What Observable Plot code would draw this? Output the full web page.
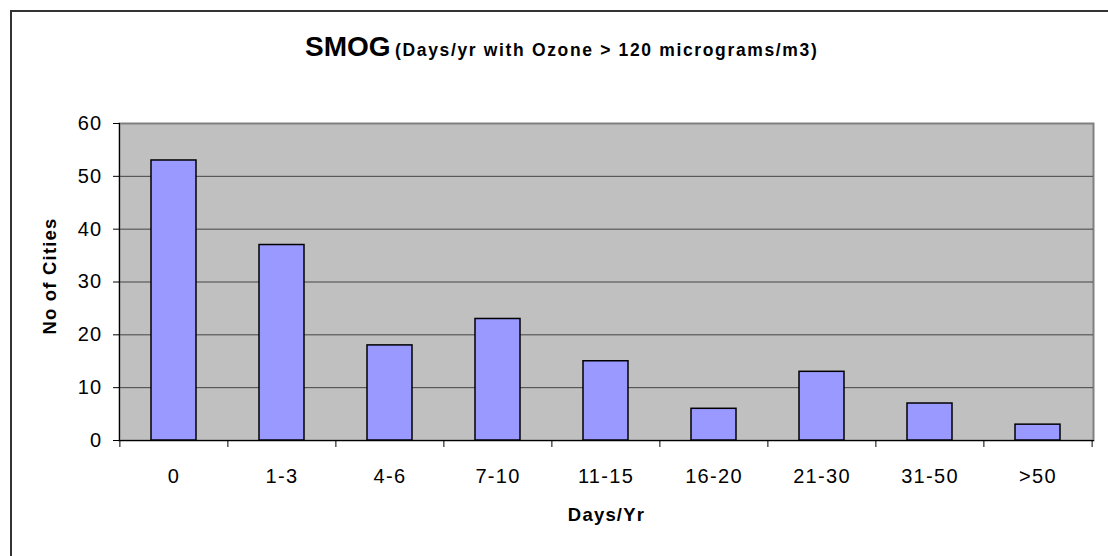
<!DOCTYPE html>
<html>
<head>
<meta charset="utf-8">
<script src="https://cdn.jsdelivr.net/npm/d3@7"></script>
<script src="https://cdn.jsdelivr.net/npm/@observablehq/plot@0.6"></script>
<style>
  html, body { margin: 0; padding: 0; background: #fff; overflow: hidden; }
  #wrap { position: relative; width: 1108px; height: 556px; overflow: hidden; font-family: "Liberation Sans", Arial, sans-serif; }
  #border { position: absolute; left: 10px; top: 10px; width: 1200px; height: 700px; border: 2px solid #333; box-sizing: border-box; }
  #title { position: absolute; left: 305px; top: 33px; white-space: nowrap; font-weight: bold; color: #000; line-height: 1; }
  #title .big { font-size: 28px; }
  #title .small { font-size: 17.5px; letter-spacing: 1.65px; }
  #chart { position: absolute; left: 0; top: 0; }
  #chart svg g[aria-label$="tick label"] text { letter-spacing: 1.3px; }
</style>
</head>
<body>
<div id="wrap">
  <div id="border"></div>
  <div id="chart"></div>
  <div id="title"><span class="big">SMOG</span> <span class="small">(Days/yr with Ozone &gt; 120 micrograms/m3)</span></div>
</div>
<script>
const categories = ["0", "1-3", "4-6", "7-10", "11-15", "16-20", "21-30", "31-50", ">50"];
const counts = [53, 37, 18, 23, 15, 6, 13, 7, 3];
const yTicks = [0, 10, 20, 30, 40, 50, 60];
const xTitle = "Days/Yr";
const yTitle = "No of Cities";

const data = categories.map((c, i) => ({cat: c, n: counts[i]}));

const W = 1108, H = 556, mL = 119, mR = 15, mT = 123, mB = 116;
const step = (W - mL - mR) / categories.length;

const chart = Plot.plot({
  width: W,
  height: H,
  marginLeft: mL,
  marginRight: mR,
  marginTop: mT,
  marginBottom: mB,
  style: {fontFamily: "'Liberation Sans', Arial, sans-serif", fontSize: "20px", color: "#000", background: "transparent", overflow: "visible", letterSpacing: "1.2px"},
  x: {domain: categories, paddingInner: 0.58, paddingOuter: 0.29, axis: null, label: null},
  y: {domain: [0, 60], axis: null, label: null},
  marks: [
    Plot.frame({fill: "#C0C0C0", stroke: "#808080", strokeWidth: 2}),
    Plot.ruleY(yTicks.filter(d => d > 0 && d < 60), {stroke: "#444", strokeWidth: 1}),
    Plot.barY(data, {x: "cat", y: "n", fill: "#9999FF", stroke: "#000", strokeWidth: 1.5}),
    Plot.frame({anchor: "left", stroke: "#000", strokeWidth: 1}),
    Plot.frame({anchor: "bottom", stroke: "#000", strokeWidth: 1}),
    Plot.axisY({ticks: yTicks, tickSize: 6, tickPadding: 11, label: null, stroke: "#000", fontSize: 20}),
    Plot.axisX({ticks: categories, tickSize: 0, tickPadding: 28, label: null, fontSize: 20}),
    Plot.axisX({ticks: categories, tickSize: 7, tickFormat: () => "", dx: -step / 2, label: null, stroke: "#000"}),
    Plot.axisX({ticks: categories.slice(-1), tickSize: 7, tickFormat: () => "", dx: step / 2, label: null, stroke: "#000"}),
    Plot.text([xTitle], {frameAnchor: "bottom", dy: 80, fontWeight: "bold", fontSize: 18.5, fill: "#000"}),
    Plot.text([yTitle], {frameAnchor: "left", textAnchor: "middle", dx: -69, dy: -6, rotate: -90, fontWeight: "bold", fontSize: 18.5, fill: "#000"})
  ]
});
document.getElementById("chart").appendChild(chart);
</script>
</body>
</html>
